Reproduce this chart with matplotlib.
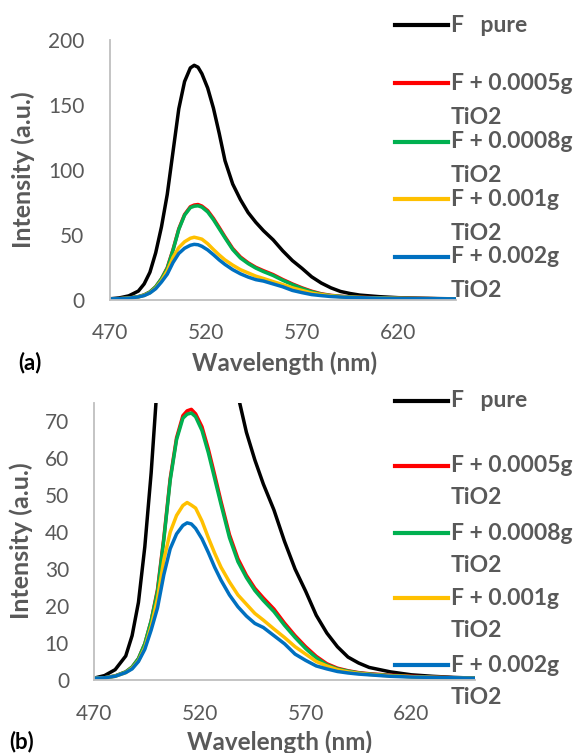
import matplotlib
matplotlib.use("Agg")
import matplotlib.pyplot as plt
from matplotlib.lines import Line2D

plt.rcParams['font.family'] = ['Lato', 'DejaVu Sans']

# ---------------- data ----------------
wavelength = [470, 475, 480, 485, 488, 491, 494, 497, 500, 503, 506, 509, 512, 514,
              516, 518, 521, 524, 527, 530, 534, 538, 542, 546, 550, 555, 560, 565, 570,
              575, 580, 585, 590, 595, 600, 610, 620, 630, 640, 650]

f_pure = [0.5, 1.2, 2.8, 6.5, 12, 21, 36, 56, 81, 114, 147, 168, 178.5, 180.5,
          179, 174, 163, 147.4, 128, 107, 89, 77, 67, 59.5, 53, 46, 37.5, 30, 24,
          17.5, 12.7, 9, 6.2, 4.6, 3.4, 2.2, 1.4, 1.0, 0.7, 0.5]

f_0005 = [0.5, 0.6, 1.1, 2.2, 3.5, 5.8, 9.8, 16, 24.5, 38.5, 54.5, 65.5, 71.5, 72.8,
          73.2, 72, 68.5, 62.5, 55.5, 48.3, 39.3, 32.8, 28.3, 24.8, 22.2, 19.2, 15.4, 12, 9,
          6.4, 4.4, 3.2, 2.5, 2.0, 1.7, 1.3, 1.0, 0.8, 0.6, 0.5]

f_0008 = [0.5, 0.6, 1.1, 2.2, 3.5, 5.8, 9.8, 16, 24, 38, 54, 65, 70.8, 71.9,
          72.2, 71.2, 67.5, 61.5, 54.5, 47.5, 38.5, 32, 27.7, 24.2, 21.5, 18.5, 14.8, 11.5, 8.5,
          6, 4.1, 3, 2.4, 1.9, 1.6, 1.2, 0.9, 0.7, 0.6, 0.5]

f_001 = [0.5, 0.6, 1.0, 2.0, 3.2, 5.2, 8.8, 14.5, 22, 32.5, 40, 44.5, 47.2, 48,
         47.3, 46.5, 43, 38.5, 34.3, 30.5, 26.5, 23, 20.5, 18, 16.2, 13.8, 11.5, 9, 7,
         5, 3.8, 2.8, 2.2, 1.8, 1.5, 1.1, 0.9, 0.7, 0.6, 0.5]

f_002 = [0.5, 0.6, 1.0, 2.0, 3.0, 5.0, 8.3, 13.5, 19.5, 28.5, 35.5, 39.5, 41.8, 42.5,
         42.2, 41, 38.2, 34.5, 30.5, 27, 23, 19.8, 17.3, 15.3, 14.2, 12, 9.8, 7, 5.3,
         3.8, 3, 2.3, 1.9, 1.6, 1.4, 1.0, 0.8, 0.7, 0.6, 0.5]

series_names = ["F   pure", "F + 0.0005g", "F + 0.0008g", "F + 0.001g", "F + 0.002g"]
series_second = ["", "TiO2", "TiO2", "TiO2", "TiO2"]
series_values = [f_pure, f_0005, f_0008, f_001, f_002]
series_colors = ["#000000", "#FF0000", "#00B050", "#FFC000", "#0070C0"]

x_ticks = [470, 520, 570, 620]
y_ticks_a = [0, 50, 100, 150, 200]
y_ticks_b = [0, 10, 20, 30, 40, 50, 60, 70]

# ---------------- layout ----------------
W, H = 582, 753
fig = plt.figure(figsize=(W / 100, H / 100), dpi=100)

GRAY = "#595959"
AXC = "#BFBFBF"


def rect(x0, y_top, x1, y_bot):
    return [x0 / W, 1 - y_bot / H, (x1 - x0) / W, (y_bot - y_top) / H]


def fx(x):
    return x / W


def fy(y):
    return 1 - y / H


def style_axes(ax, yticks, ylim):
    ax.set_xlim(470, 650)
    ax.set_ylim(*ylim)
    ax.set_xticks(x_ticks)
    ax.set_yticks(yticks)
    for s in ["top", "right"]:
        ax.spines[s].set_visible(False)
    for s in ["left", "bottom"]:
        ax.spines[s].set_color(AXC)
        ax.spines[s].set_linewidth(1.3)
    ax.tick_params(axis="both", length=0, labelsize=15, labelcolor=GRAY)
    ax.tick_params(axis="x", pad=17)
    ax.tick_params(axis="y", pad=18)
    for v, c in zip(series_values, series_colors):
        ax.plot(wavelength, v, color=c, lw=2.5, solid_capstyle="round")


ax_a = fig.add_axes(rect(109.5, 40, 456, 299.5))
style_axes(ax_a, y_ticks_a, (0, 200))
ax_b = fig.add_axes(rect(94, 402.7, 475, 680))
style_axes(ax_b, y_ticks_b, (0, 75))

# axis labels
fig.text(fx(23), fy(170), "Intensity (a.u.)", rotation=90, ha="center", va="center",
         fontsize=18, fontweight="bold", color=GRAY)
fig.text(fx(21), fy(541), "Intensity (a.u.)", rotation=90, ha="center", va="center",
         fontsize=18, fontweight="bold", color=GRAY)
fig.text(fx(285), fy(363), "Wavelength (nm)", ha="center", va="center",
         fontsize=17.5, fontweight="bold", color=GRAY)
fig.text(fx(280), fy(742), "Wavelength (nm)", ha="center", va="center",
         fontsize=17.5, fontweight="bold", color=GRAY)

# panel labels
fig.text(fx(30), fy(363), "(a)", ha="center", va="center", fontsize=16,
         fontweight="bold", color="black")
fig.text(fx(22), fy(742), "(b)", ha="center", va="center", fontsize=16,
         fontweight="bold", color="black")

# legends (drawn manually to mimic spreadsheet layout)
legend_a_y = [25, 83.3, 141.7, 199, 256.7]
legend_a_dy = 34
legend_b_y = [400.7, 466, 533.3, 598.3, 665]
legend_b_dy = 32


def draw_legend(ys, dy):
    for name, second, col, y in zip(series_names, series_second, series_colors, ys):
        fig.add_artist(Line2D([fx(395), fx(448)], [fy(y), fy(y)], color=col, lw=3,
                              transform=fig.transFigure))
        fig.text(fx(451), fy(y), name, ha="left", va="center", fontsize=16.5,
                 fontweight="bold", color=GRAY)
        if second:
            fig.text(fx(451), fy(y + dy), second, ha="left", va="center", fontsize=16.5,
                     fontweight="bold", color=GRAY)


draw_legend(legend_a_y, legend_a_dy)
draw_legend(legend_b_y, legend_b_dy)

fig.savefig("out.png", dpi=100)
